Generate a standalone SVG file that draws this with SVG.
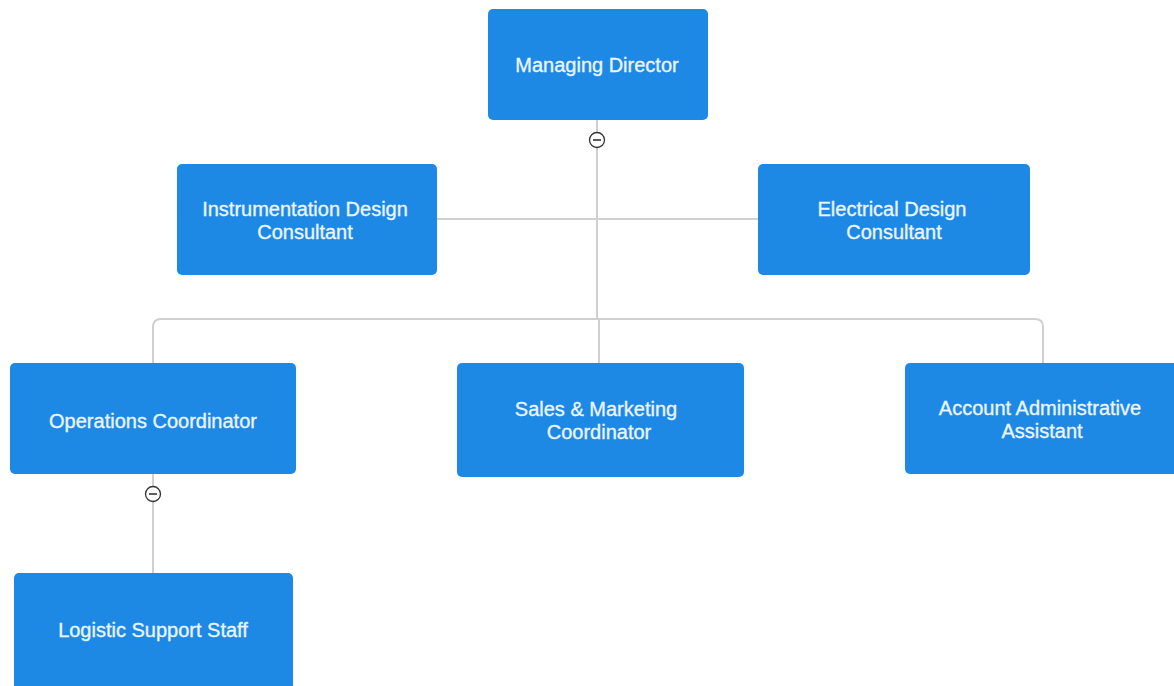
<svg xmlns="http://www.w3.org/2000/svg" width="1174" height="686" viewBox="0 0 1174 686">
<style>
.box{fill:#1e88e5;}
.t{font-family:"Liberation Sans",Arial,sans-serif;font-size:20px;fill:#eaf5ff;stroke:#eaf5ff;stroke-width:0.35;text-anchor:middle;}
.ln{fill:none;stroke:#d0d0d0;stroke-width:2;}
.btn{fill:#fff;stroke:#333;stroke-width:1.3;}
.minus{stroke:#333;stroke-width:1.6;}
</style>
<rect width="1174" height="686" fill="#fff"/>
<g id="connectors">
<path class="ln" d="M597 120 V319"/>
<path class="ln" d="M437 219 H758"/>
<path class="ln" d="M153 363 V327 Q153 319 161 319 H1035 Q1043 319 1043 327 V363"/>
<path class="ln" d="M599 319 V363"/>
<path class="ln" d="M153 474 V573"/>
</g>
<g id="managing-director">
<rect class="box" x="488" y="9" width="220" height="111" rx="5"/>
<text class="t" x="597" y="72">Managing Director</text>
<circle class="btn" cx="597" cy="140" r="7.5"/>
<line class="minus" x1="593" y1="140" x2="601" y2="140"/>
</g>
<g id="instrumentation-design-consultant">
<rect class="box" x="177" y="164" width="260" height="111" rx="5"/>
<text class="t" x="305" y="216">Instrumentation Design</text>
<text class="t" x="305" y="239">Consultant</text>
</g>
<g id="electrical-design-consultant">
<rect class="box" x="758" y="164" width="272" height="111" rx="5"/>
<text class="t" x="892" y="216">Electrical Design</text>
<text class="t" x="894" y="239">Consultant</text>
</g>
<g id="operations-coordinator">
<rect class="box" x="10" y="363" width="286" height="111" rx="5"/>
<text class="t" x="153" y="428">Operations Coordinator</text>
<circle class="btn" cx="153" cy="494" r="7.5"/>
<line class="minus" x1="149" y1="494" x2="157" y2="494"/>
</g>
<g id="sales-marketing-coordinator">
<rect class="box" x="457" y="363" width="287" height="114" rx="5"/>
<text class="t" x="596" y="416">Sales &amp; Marketing</text>
<text class="t" x="599" y="439">Coordinator</text>
</g>
<g id="account-administrative-assistant">
<rect class="box" x="905" y="363" width="275" height="111" rx="5"/>
<text class="t" x="1040" y="415">Account Administrative</text>
<text class="t" x="1042" y="438">Assistant</text>
</g>
<g id="logistic-support-staff">
<rect class="box" x="14" y="573" width="279" height="120" rx="5"/>
<text class="t" x="153" y="637">Logistic Support Staff</text>
</g>
</svg>
